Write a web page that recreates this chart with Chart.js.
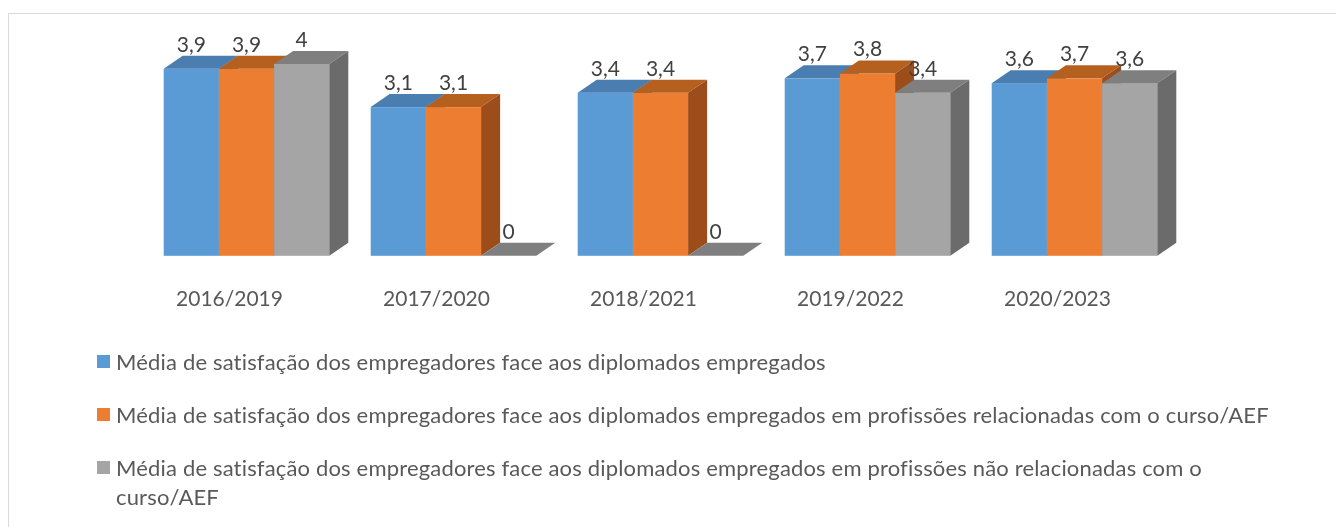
<!DOCTYPE html>
<html>
<head>
<meta charset="utf-8">
<script src="https://cdn.jsdelivr.net/npm/chart.js@4.4.0/dist/chart.umd.min.js"></script>
<style>
  body { margin: 0; background: #fff; font-family: Lato, sans-serif; }
  #wrap { position: relative; width: 1336px; height: 527px; overflow: hidden; }
  #frame { position: absolute; left: 8px; top: 13px; width: 1340px; height: 530px;
           border-top: 1px solid #d9d9d9; border-left: 1px solid #d9d9d9; }
  canvas { position: absolute; left: 0; top: 0; }
  #legend { position: absolute; left: 97px; top: 347px; width: 1184px;
            color: #595959; font-size: 22px; letter-spacing: 0.17px; line-height: 29px; }
  .item { position: relative; padding-left: 19px; margin-bottom: 24px; }
  .box { position: absolute; left: 0; top: 8px; width: 13px; height: 13px; }
</style>
</head>
<body>
<div id="wrap">
  <div id="frame"></div>
  <canvas id="chart" width="1336" height="362"></canvas>
  <div id="legend"></div>
</div>
<script>
const categories = ['2016/2019', '2017/2020', '2018/2021', '2019/2022', '2020/2023'];
const seriesNames = [
  'Média de satisfação dos empregadores face aos diplomados empregados',
  'Média de satisfação dos empregadores face aos diplomados empregados em profissões relacionadas com o curso/AEF',
  'Média de satisfação dos empregadores face aos diplomados empregados em profissões não relacionadas com o curso/AEF'
];
const empregados = [3.9, 3.1, 3.4, 3.7, 3.6];
const relacionadas = [3.9, 3.1, 3.4, 3.8, 3.7];
const naoRelacionadas = [4, 0, 0, 3.4, 3.6];

// front / top / side shades for the fake 3D columns
const frontColors = ['#5B9BD5', '#ED7D31', '#A5A5A5'];
const topColors = ['#4A7DB0', '#B6601F', '#7F7F7F'];
const sideColors = ['#3F6D9A', '#9C4D19', '#6B6B6B'];

const DX = 19, DY = 13;

function fmt(v) {
  return String(v).replace('.', ',');
}

// draw columns as front + top + side faces, then the value labels
const bars3d = {
  id: 'bars3d',
  beforeDatasetsDraw(chart) {
    const ctx = chart.ctx;
    const n = chart.data.labels.length;
    ctx.save();
    for (let i = 0; i < n; i++) {
      chart.data.datasets.forEach((ds, d) => {
        const bar = chart.getDatasetMeta(d).data[i];
        const { x, y, base, width } = bar.getProps(['x', 'y', 'base', 'width'], true);
        const l = x - width / 2, r = x + width / 2;
        ctx.fillStyle = frontColors[d];
        ctx.fillRect(l, y, width, base - y);
        ctx.fillStyle = topColors[d];
        ctx.beginPath();
        ctx.moveTo(l, y); ctx.lineTo(r, y); ctx.lineTo(r + DX, y - DY); ctx.lineTo(l + DX, y - DY);
        ctx.closePath(); ctx.fill();
        ctx.fillStyle = sideColors[d];
        ctx.beginPath();
        ctx.moveTo(r, y); ctx.lineTo(r + DX, y - DY); ctx.lineTo(r + DX, base - DY); ctx.lineTo(r, base);
        ctx.closePath(); ctx.fill();
      });
    }
    ctx.font = '21px Lato';
    ctx.fillStyle = '#404040';
    ctx.textAlign = 'center';
    ctx.textBaseline = 'middle';
    chart.data.datasets.forEach((ds, d) => {
      chart.getDatasetMeta(d).data.forEach((bar, i) => {
        ctx.fillText(fmt(ds.data[i]), bar.x, bar.y - 24);
      });
    });
    ctx.restore();
    return false;
  }
};

const chart = new Chart(document.getElementById('chart'), {
  type: 'bar',
  data: {
    labels: categories,
    datasets: [
      { label: seriesNames[0], data: empregados, backgroundColor: frontColors[0] },
      { label: seriesNames[1], data: relacionadas, backgroundColor: frontColors[1] },
      { label: seriesNames[2], data: naoRelacionadas, backgroundColor: frontColors[2] }
    ]
  },
  options: {
    responsive: false,
    animation: false,
    layout: { padding: { top: 16, left: 143, right: 158, bottom: 19 } },
    datasets: { bar: { categoryPercentage: 0.8, barPercentage: 1 } },
    plugins: { legend: { display: false }, tooltip: { enabled: false } },
    scales: {
      x: {
        grid: { display: false, drawTicks: false },
        border: { display: false },
        ticks: {
          font: { family: 'Lato', size: 21 },
          color: '#595959',
          padding: 31,
          labelOffset: -17,
          maxRotation: 0,
          autoSkip: false
        }
      },
      y: { display: false, min: 0, max: 5 }
    }
  },
  plugins: [bars3d]
});

// html legend, one series per line
const legendEl = document.getElementById('legend');
chart.data.datasets.forEach((ds) => {
  const item = document.createElement('div');
  item.className = 'item';
  const box = document.createElement('span');
  box.className = 'box';
  box.style.background = ds.backgroundColor;
  item.appendChild(box);
  item.appendChild(document.createTextNode(ds.label));
  legendEl.appendChild(item);
});
</script>
</body>
</html>
